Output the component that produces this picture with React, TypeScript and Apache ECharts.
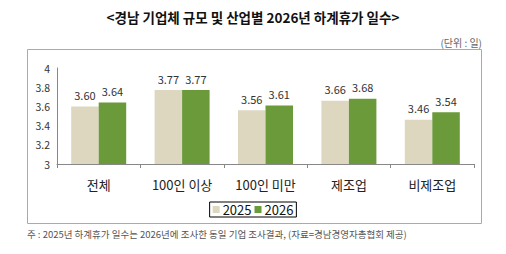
import React, { useEffect, useRef } from "react";
import * as echarts from "echarts";

const categories = ["전체", "100인 이상", "100인 미만", "제조업", "비제조업"];
const series2025 = [3.6, 3.77, 3.56, 3.66, 3.46];
const series2026 = [3.64, 3.77, 3.61, 3.68, 3.54];
const seriesNames = ["2025", "2026"];
const yTicks = { min: 3, max: 4, interval: 0.2 };

const FONT = "'Noto Sans CJK KR', 'Noto Sans', sans-serif";
const BEIGE = "#ddd7c0";
const GREEN = "#6b9a3b";

export default function App() {
  const ref = useRef<HTMLDivElement>(null);

  useEffect(() => {
    if (!ref.current) return;
    const chart = echarts.init(ref.current, undefined, { renderer: "svg" });
    const labelStyle = {
      show: true,
      position: "top" as const,
      distance: 6,
      fontFamily: FONT,
      fontSize: 11,
      color: "#333",
      formatter: (p: any) => Number(p.value).toFixed(2),
    };
    chart.setOption({
      animation: false,
      backgroundColor: "#fff",
      textStyle: { fontFamily: FONT },
      graphic: [
        {
          type: "text",
          left: "center",
          top: 10,
          style: {
            text: "<경남 기업체 규모 및 산업별 2026년 하계휴가 일수>",
            font: `bold 13.5px ${FONT}`,
            fill: "#111",
          },
        },
        {
          type: "text",
          right: 24,
          top: 37,
          style: {
            text: "(단위 : 일)",
            font: `10px ${FONT}`,
            fill: "#666",
          },
        },
        {
          type: "rect",
          shape: { x: 27.5, y: 49.5, width: 454, height: 174 },
          style: { fill: "none", stroke: "#aaa", lineWidth: 1 },
          z: -1,
        },
        {
          type: "text",
          left: 27,
          top: 229,
          style: {
            text: "주 : 2025년 하계휴가 일수는 2026년에 조사한 동일 기업 조사결과, (자료=경남경영자총협회 제공)",
            font: `9.5px ${FONT}`,
            fill: "#555",
          },
        },
      ],
      legend: {
        data: seriesNames,
        top: 202,
        left: "center",
        itemWidth: 7,
        itemHeight: 7,
        itemGap: 3,
        padding: [1, 3, 1, 3],
        borderColor: "#000",
        borderWidth: 1,
        icon: "rect",
        textStyle: { fontFamily: FONT, fontSize: 13, color: "#111", padding: [0, 0, 0, -2] },
      },
      grid: { left: 57, right: 32, top: 68, bottom: 90, containLabel: false },
      xAxis: {
        type: "category",
        data: categories,
        axisLine: { lineStyle: { color: "#888" } },
        axisTick: { show: true, length: 4, lineStyle: { color: "#888" } },
        axisLabel: { fontFamily: FONT, fontSize: 13, color: "#222", margin: 14 },
      },
      yAxis: {
        type: "value",
        min: yTicks.min,
        max: yTicks.max,
        interval: yTicks.interval,
        splitLine: { show: false },
        axisLine: { show: true, lineStyle: { color: "#888" } },
        axisTick: { show: false },
        axisLabel: {
          fontFamily: FONT,
          fontSize: 10.5,
          color: "#333",
          margin: 7,
          formatter: (v: number) => String(Math.round(v * 10) / 10),
        },
      },
      series: [
        {
          name: seriesNames[0],
          type: "bar",
          data: series2025,
          barWidth: 27.5,
          barGap: "0%",
          itemStyle: { color: BEIGE },
          label: labelStyle,
        },
        {
          name: seriesNames[1],
          type: "bar",
          data: series2026,
          barWidth: 27.5,
          itemStyle: { color: GREEN },
          label: labelStyle,
        },
      ],
    });
    return () => chart.dispose();
  }, []);

  return <div ref={ref} style={{ width: 506, height: 254, position: "absolute", left: 0, top: 0 }} />;
}
